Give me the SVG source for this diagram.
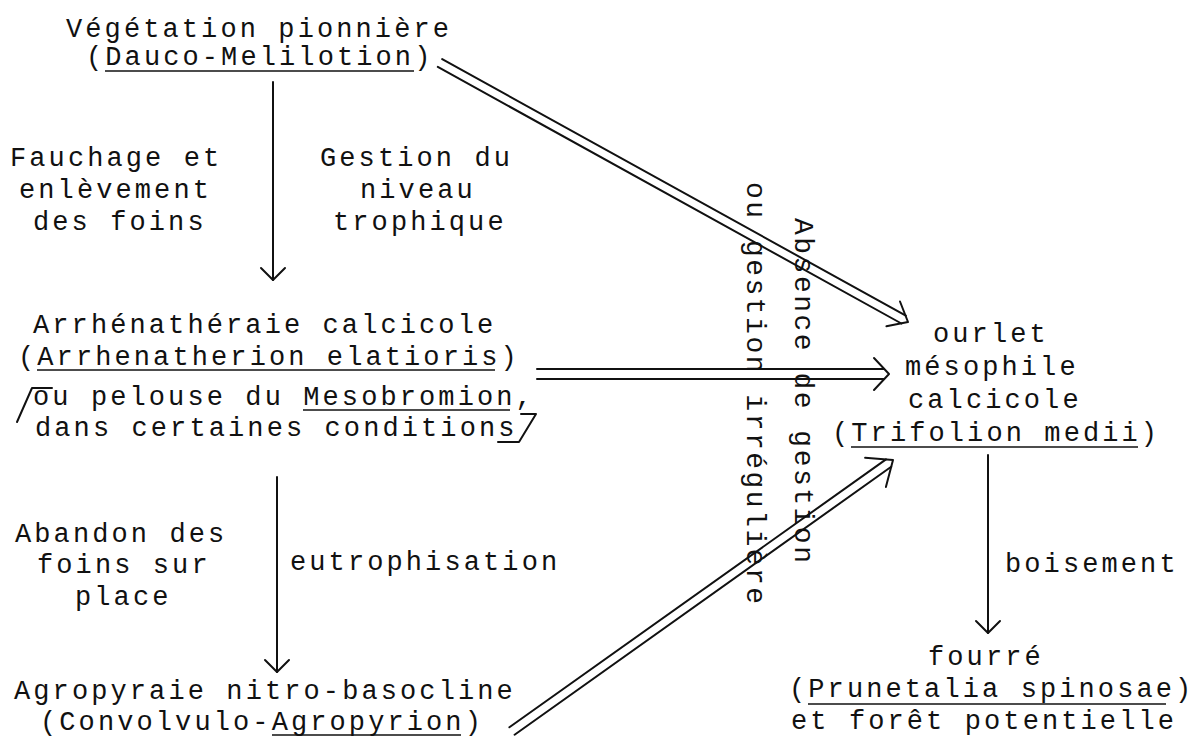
<svg xmlns="http://www.w3.org/2000/svg" width="1195" height="738" viewBox="0 0 1195 738">
<style>
text{font-family:"Liberation Mono","DejaVu Sans Mono",monospace;font-size:27px;letter-spacing:3.1px;fill:#111}
text.rot{font-size:28px;letter-spacing:2.5px}
.ln{stroke:#111;stroke-width:2;fill:none;stroke-linecap:round;stroke-linejoin:round}
.ul{stroke:#111;stroke-width:1.6;fill:none}
</style>
<rect width="1195" height="738" fill="#fff"/>
<g id="node-pionniere">
<text x="66" y="37">Végétation pionnière</text>
<text x="86" y="65">(Dauco-Melilotion)</text>
<line class="ul" x1="105" y1="71" x2="414" y2="71"/>
</g>
<g id="label-fauchage">
<text x="10" y="166">Fauchage et</text>
<text x="19" y="198">enlèvement</text>
<text x="33" y="230">des foins</text>
</g>
<g id="label-gestion">
<text x="320" y="166">Gestion du</text>
<text x="360" y="198">niveau</text>
<text x="333" y="230">trophique</text>
</g>
<g id="node-arrhenatheraie">
<text x="33" y="333">Arrhénathéraie calcicole</text>
<text x="18" y="365">(Arrhenatherion elatioris)</text>
<line class="ul" x1="37" y1="370" x2="495" y2="370"/>
<text x="33" y="405">ou pelouse du Mesobromion,</text>
<line class="ul" x1="303" y1="410" x2="510" y2="410"/>
<text x="35" y="436">dans certaines conditions</text>
<path class="ln" d="M17,422 L32,388 L52,388"/>
<path class="ln" d="M521,414 H536 L519,442 H498"/>
</g>
<g id="label-abandon">
<text x="15" y="542">Abandon des</text>
<text x="37" y="573">foins sur</text>
<text x="75" y="605">place</text>
</g>
<g id="label-eutrophisation">
<text x="290" y="570">eutrophisation</text>
</g>
<g id="node-agropyraie">
<text x="14" y="699">Agropyraie nitro-basocline</text>
<text x="40" y="730">(Convolvulo-Agropyrion)</text>
<line class="ul" x1="272" y1="735" x2="461" y2="735"/>
</g>
<g id="label-absence">
<text class="rot" transform="translate(747,182) rotate(90)">ou gestion irrégulière</text>
<text class="rot" transform="translate(795,218) rotate(90)">Absence de gestion</text>
</g>
<g id="node-ourlet">
<text x="933" y="342">ourlet</text>
<text x="905" y="375">mésophile</text>
<text x="908" y="408">calcicole</text>
<text x="832" y="441">(Trifolion medii)</text>
<line class="ul" x1="851" y1="447" x2="1138" y2="447"/>
</g>
<g id="label-boisement">
<text x="1005" y="572">boisement</text>
</g>
<g id="node-fourre">
<text x="928" y="665">fourré</text>
<text x="789" y="697">(Prunetalia spinosae)</text>
<line class="ul" x1="808" y1="704" x2="1166" y2="704"/>
<text x="791" y="729">et forêt potentielle</text>
</g>
<g id="connectors">
<line class="ln" x1="273" y1="82" x2="273" y2="280"/>
<polyline class="ln" points="261,268 273,280 285,268"/>
<line class="ln" x1="277" y1="477" x2="277" y2="672"/>
<polyline class="ln" points="265,660 277,672 289,660"/>
<line class="ln" x1="988" y1="455" x2="988" y2="633"/>
<polyline class="ln" points="976,621 988,633 1000,621"/>
<line class="ln" x1="442.2" y1="59.1" x2="905.8" y2="315.7"/>
<line class="ln" x1="437.8" y1="66.9" x2="901.4" y2="323.5"/>
<polyline class="ln" points="900,301.5 908,322 886.4,326.2"/>
<line class="ln" x1="537" y1="369" x2="884" y2="369"/>
<line class="ln" x1="537" y1="379" x2="884" y2="379"/>
<polyline class="ln" points="874,358 889,374 874,390"/>
<line class="ln" x1="509.4" y1="727.3" x2="886" y2="459.4"/>
<line class="ln" x1="514.6" y1="734.7" x2="891.2" y2="466.8"/>
<polyline class="ln" points="865.1,457.8 893,460 885.9,487.1"/>
</g>
</svg>
